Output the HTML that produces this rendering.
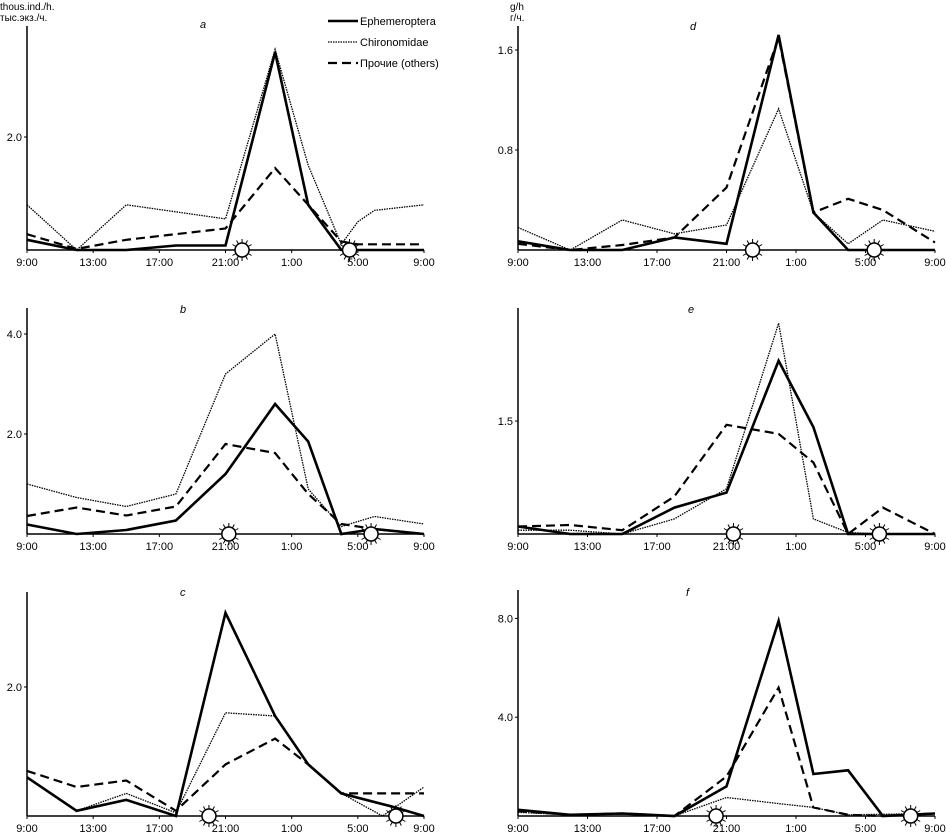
<!DOCTYPE html>
<html><head><meta charset="utf-8"><style>
body{margin:0;background:#fff}
svg{display:block}
text{font-family:"Liberation Sans","Noto Sans CJK SC",sans-serif;fill:#000}
</style></head><body>
<svg id="chart" width="946" height="838" viewBox="0 0 946 838" xmlns="http://www.w3.org/2000/svg"></svg>
<script>
// hours since 9:00
const tickLabels=["9:00","13:00","17:00","21:00","1:00","5:00","9:00"];
const tickHours=[0,4,8,12,16,20,24];
const seriesNames=["Ephemeroptera","Chironomidae","Прочие (others)"];

const aEphT=[0,3,6,9,12,15,17,19,24], aEphV=[0.18,0,0,0.08,0.08,3.5,0.8,0,0];
const aChiT=[0,3,6,12,15,17,19,20,21,24], aChiV=[0.8,0,0.8,0.55,3.55,1.5,0.1,0.5,0.7,0.8];
const aOthT=[0,3,6,12,15,17,19,20,24], aOthV=[0.28,0.02,0.18,0.38,1.45,0.8,0.15,0.1,0.1];

const bEphT=[0,3,6,9,12,15,17,19,21,24], bEphV=[0.19,0,0.08,0.27,1.2,2.6,1.85,0,0.1,0];
const bChiT=[0,3,6,9,12,15,17,19,21,24], bChiV=[1.0,0.73,0.55,0.8,3.2,4.0,0.9,0.15,0.35,0.2];
const bOthT=[0,3,6,9,12,15,17,19,21,24], bOthV=[0.36,0.53,0.37,0.55,1.8,1.62,0.8,0.2,0.1,0];

const cEphT=[0,3,6,9,12,15,17,19,22,24], cEphV=[0.6,0.08,0.25,0,3.15,1.55,0.8,0.35,0.15,0];
const cChiT=[0,3,6,9,12,15,17,19,21.5,24], cChiV=[0.6,0.08,0.35,0.05,1.6,1.55,0.8,0.35,0,0.45];
const cOthT=[0,3,6,9,12,15,17,19,22,24], cOthV=[0.7,0.45,0.55,0.08,0.8,1.2,0.8,0.35,0.35,0.35];

const dEphT=[0,3,6,9,12,15,17,19,24], dEphV=[0.07,0,0,0.1,0.05,1.72,0.3,0,0];
const dChiT=[0,3,6,9,12,15,17,19,21,24], dChiV=[0.18,0,0.24,0.13,0.2,1.13,0.3,0.05,0.24,0.15];
const dOthT=[0,3,6,9,12,15,17,19,21,24], dOthV=[0.05,0,0.04,0.1,0.5,1.7,0.3,0.41,0.32,0.06];

const eEphT=[0,3,6,9,12,15,17,19,21,24], eEphV=[0.1,0,0,0.35,0.55,2.3,1.42,0,0,0];
const eChiT=[0,3,6,9,12,15,17,19,21,24], eChiV=[0.05,0.05,0,0.2,0.6,2.8,0.2,0.02,0,0];
const eOthT=[0,3,6,9,12,15,17,19,21,24], eOthV=[0.1,0.12,0.05,0.5,1.45,1.33,0.95,0,0.35,0];

const fEphT=[0,3,6,9,12,15,17,19,21,24], fEphV=[0.25,0.05,0.1,0,1.2,7.9,1.7,1.85,0,0.1];
const fChiT=[0,3,6,9,12,15,17,19,24], fChiV=[0.15,0.05,0.1,0,0.75,0.5,0.35,0.05,0.1];
const fOthT=[0,3,6,9,12,15,17,19,21,24], fOthV=[0.2,0.05,0.1,0,1.6,5.2,0.35,0.05,0,0.1];

const aTicks=[2.0], bTicks=[2.0,4.0], cTicks=[2.0], dTicks=[0.8,1.6], eTicks=[1.5], fTicks=[4.0,8.0];
const aSuns=[13,19.5], bSuns=[12.2,20.8], cSuns=[11,22.3], dSuns=[13.5,20.5], eSuns=[12.4,20.8], fSuns=[11.4,22.6];

const NS="http://www.w3.org/2000/svg";
const svg=document.getElementById('chart');
function mk(tag,attrs,parent){const e=document.createElementNS(NS,tag);for(const k in attrs)e.setAttribute(k,attrs[k]);(parent||svg).appendChild(e);return e;}

const styles=[
 {w:2.6,dash:""},
 {w:1.3,dash:"1.5,1"},
 {w:2.2,dash:"9,5"}
];

function panel(id,letter,x0,x1,base,top,unitPx,ticks,series,suns,lx,ly){
  const g=mk('g',{});
  
  
  const xs=t=>x0+(x1-x0)*t/24;
  const ys=v=>base-v*unitPx;
  const ax=mk('line',{x1:x0,y1:top,x2:x0,y2:base,stroke:'#000','stroke-width':1.5},g);
  
  
  const bx=mk('line',{x1:x0,y1:base,x2:x1,y2:base,stroke:'#000','stroke-width':1.5},g);
  
  
  tickHours.forEach((h,i)=>{
    const x=xs(h);
    mk('line',{x1:x,y1:base,x2:x,y2:base+3,stroke:'#000','stroke-width':1},g);
    const t=mk('text',{x:x,y:base+16,'font-size':11,'text-anchor':'middle'},g);
    t.textContent=tickLabels[i];
    
    
  });
  ticks.forEach(v=>{
    const y=ys(v);
    mk('line',{x1:x0-3,y1:y,x2:x0,y2:y,stroke:'#000','stroke-width':1},g);
    const t=mk('text',{x:x0-5,y:y+4,'font-size':11,'text-anchor':'end'},g);
    t.textContent=v.toFixed(1);
    
    
  });
  const lt=mk('text',{x:lx,y:ly,'font-size':11,'font-style':'italic'},g);
  lt.textContent=letter;
  
  
  series.forEach((s,i)=>{
    const pts=s[0].map((t,k)=>xs(t).toFixed(1)+','+ys(s[1][k]).toFixed(1)).join(' ');
    const p=mk('polyline',{points:pts,fill:'none',stroke:'#000','stroke-width':styles[i].w,'stroke-dasharray':styles[i].dash,'stroke-linejoin':'miter'},g);
    
    
  });
  suns.forEach(h=>{
    const cx=xs(h), cy=base;
    const sg=mk('g',{},g);
    
    
    for(let k=0;k<12;k++){const a=k*Math.PI/6;mk('line',{x1:cx+7*Math.cos(a),y1:cy+7*Math.sin(a),x2:cx+11*Math.cos(a),y2:cy+11*Math.sin(a),stroke:'#000','stroke-width':1},sg);}
    mk('circle',{cx:cx,cy:cy,r:7,fill:'#fff',stroke:'#000','stroke-width':1.5},sg);
  });
}

panel('a','a',27,424,250,26,56.5,aTicks,[[aEphT,aEphV],[aChiT,aChiV],[aOthT,aOthV]],aSuns,200,28);
panel('b','b',27,424,534,308,50,bTicks,[[bEphT,bEphV],[bChiT,bChiV],[bOthT,bOthV]],bSuns,180,313);
panel('c','c',27,424,816,592,64.5,cTicks,[[cEphT,cEphV],[cChiT,cChiV],[cOthT,cOthV]],cSuns,180,596);
panel('d','d',518,935,250,26,125,dTicks,[[dEphT,dEphV],[dChiT,dChiV],[dOthT,dOthV]],dSuns,690,30);
panel('e','e',518,935,534,308,75.3,eTicks,[[eEphT,eEphV],[eChiT,eChiV],[eOthT,eOthV]],eSuns,688,313);
panel('f','f',518,935,816,590,24.7,fTicks,[[fEphT,fEphV],[fChiT,fChiV],[fOthT,fOthV]],fSuns,686,596);

// units
[["thous.ind./h.",0,10],["тыс.экз./ч.",0,21],["g/h",510,10],["г/ч.",510,21]].forEach(u=>{
  const t=mk('text',{x:u[1],y:u[2],'font-size':10});
  t.textContent=u[0];
  
  
});
// legend
seriesNames.forEach((n,i)=>{
  const y=21+i*21;
  const lg=mk('g',{});
  
  
  mk('line',{x1:328,y1:y,x2:358,y2:y,stroke:'#000','stroke-width':styles[i].w,'stroke-dasharray':styles[i].dash},lg);
  const t=mk('text',{x:360,y:y+4,'font-size':11},lg);
  t.textContent=n;
});
</script>
</body></html>
